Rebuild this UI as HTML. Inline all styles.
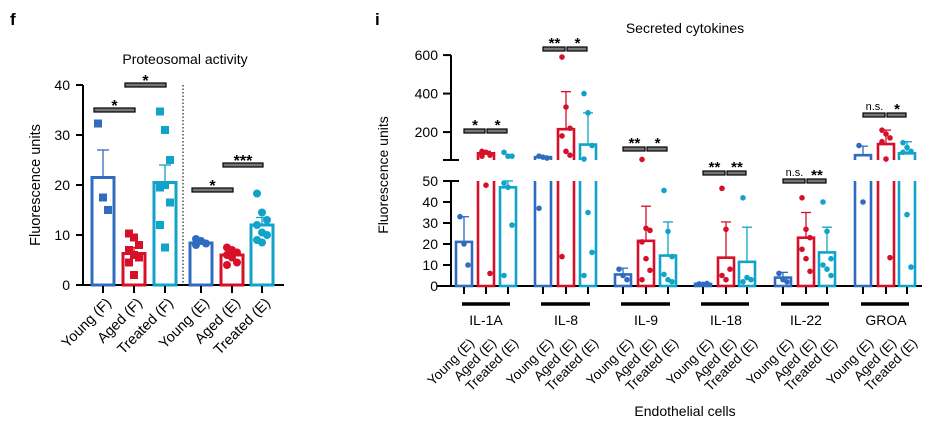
<!DOCTYPE html>
<html><head><meta charset="utf-8"><style>
body{margin:0;background:#fff}
svg{display:block;font-family:"Liberation Sans",Arial,sans-serif}
</style></head><body>
<svg id="c" width="939" height="431" viewBox="0 0 939 431"></svg>
<script>
// ---- Panel f data ----
const fCats=["Young (F)","Aged (F)","Treated (F)","Young (E)","Aged (E)","Treated (E)"];
const fMeans=[21.5,6.3,20.5,8.4,6.0,12.0];
const fErr=[27,7.5,24,8.8,6.5,13.5];
const fPts=[[32.3,17.5,15],[10.3,9.5,8,7,6,5.5,4.5,2],[34.7,31,25,19.5,20,16.5,12,7.5],[9.2,8.8,8.3,8],[7.5,7,6.5,6,5.5,4.5,4],[18.3,14.5,13,12,10.5,10,9,8.5]];
const fTicks=[0,10,20,30,40];
const fSig=[[0,1,35,"*"],[1,2,40,"*"],[3,4,19,"*"],[4,5,24,"***"]];
// ---- Panel i data ----
const iGroups=["IL-1A","IL-8","IL-9","IL-18","IL-22","GROA"];
const iMeans=[[21,90,47],[70,215,135],[5.5,21.5,14.5],[1,13.5,11.5],[4,23,16],[80,138,90]];
const iErr=[[33,100,50],[75,410,300],[8.5,38,30.5],[1.5,30.5,28],[6.5,35,28],[127,210,150]];
const iPts=[[[33,20,10],[100,95,80,75,48,6],[95,75,75,49,47,29,5]],[[75,70,65,37],[590,330,220,180,100,80,14],[400,300,130,60,35,16,5]],[[8,5,3],[58,27.5,26.5,21,13,7.5,3],[45.5,26,14,5.5,3,2]],[[1,0.8,1.2],[46.5,27,8,5,3],[42,4,3,2]],[[6,3,2],[42,27,23,17.5,13,7],[40,26,13,10,8,5]],[[130,40],[210,190,170,150,60,13.5],[145,120,100,95,34,9]]];
const iSig=[["*","*",131],["**","*",49],["**","*",149],["**","**",173],["n.s.","**",181],["n.s.","*",115]];
const iLowTicks=[0,10,20,30,40,50];
const iUpTicks=[200,400,600];
const colors=["#2f6cc0","#d7102a","#11a3c9"];

const svg=document.getElementById('c');
const NS="http://www.w3.org/2000/svg";
function mk(tag,at,parent){const e=document.createElementNS(NS,tag);for(const k in at)e.setAttribute(k,at[k]);(parent||svg).appendChild(e);return e;}
function txt(s,at,parent){const e=mk('text',at,parent);e.textContent=s;return e;}

// ---------- Panel f ----------
const fy=v=>285-v*5;
const fx=i=>[103,134,165,201,232,262][i];
let t=txt("f",{x:10,y:25,'font-size':17,'font-weight':'bold'});

t=txt("Proteosomal activity",{x:185,y:64,'font-size':14,'text-anchor':'middle'});

t=txt("Fluorescence units",{x:40,y:185,'font-size':14.5,'text-anchor':'middle',transform:'rotate(-90 40 185)'});

let ax=mk('g',{});

mk('line',{x1:83,y1:fy(40),x2:83,y2:286,stroke:'#000','stroke-width':2},ax);
fTicks.forEach(v=>{mk('line',{x1:76,y1:fy(v),x2:83,y2:fy(v),stroke:'#000','stroke-width':2},ax);txt(v,{x:70,y:fy(v)+5,'font-size':14,'text-anchor':'end'},ax);});
mk('line',{x1:76,y1:285,x2:284,y2:285,stroke:'#000','stroke-width':2},ax);
let dl=mk('line',{x1:183,y1:85,x2:183,y2:285,stroke:'#333','stroke-width':1.3,'stroke-dasharray':'1.5 2'});

fCats.forEach((c,i)=>{
  const g=mk('g',{});
  
  
  const col=colors[i%3],x=fx(i),w=22;
  mk('line',{x1:x,y1:fy(fMeans[i]),x2:x,y2:fy(fErr[i]),stroke:col,'stroke-width':1.3},g);
  mk('line',{x1:x-6,y1:fy(fErr[i]),x2:x+6,y2:fy(fErr[i]),stroke:col,'stroke-width':1.3},g);
  mk('rect',{x:x-w/2,y:fy(fMeans[i]),width:w,height:fy(0)-fy(fMeans[i]),fill:'none',stroke:col,'stroke-width':3},g);
  fPts[i].forEach((v,j)=>{
    const dx=((j%3)-1)*5;
    if(i<3) mk('rect',{x:x+dx-4,y:fy(v)-4,width:8,height:8,fill:col},g);
    else mk('circle',{cx:x+dx,cy:fy(v),r:4,fill:col},g);
  });
  mk('line',{x1:x,y1:286,x2:x,y2:293,stroke:'#000','stroke-width':2},g);
  const l=txt(c,{x:x+9,y:304,'font-size':14.5,'text-anchor':'end',transform:`rotate(-45 ${x+9} 304)`});
  
});
fSig.forEach((s,k)=>{
  const g=mk('g',{});
  
  const x1=fx(s[0])-9,x2=fx(s[1])+1,y=fy(s[2]);
  mk('rect',{x:x1,y:y-2,width:x2-x1,height:4,fill:'#777',stroke:'#000','stroke-width':1.2},g);
  txt(s[3],{x:(x1+x2)/2,y:y+1,'font-size':16,'font-weight':'bold','text-anchor':'middle'},g);
});

// ---------- Panel i ----------
const yL=v=>286-v*2.1;
const yU=v=>160-(v-55)*0.1925;
const ip=v=>v>50?yU(Math.max(v,55)):yL(v);
const gx=[[464,486,508],[543,566,588],[623,646,668],[703,726,747],[783,806,827],[863,886,907]];
t=txt("i",{x:375,y:25,'font-size':17,'font-weight':'bold'});

t=txt("Secreted cytokines",{x:685,y:33,'font-size':14,'text-anchor':'middle'});

t=txt("Fluorescence units",{x:388,y:175,'font-size':14,'text-anchor':'middle',transform:'rotate(-90 388 175)'});

t=txt("Endothelial cells",{x:685,y:416,'font-size':14,'text-anchor':'middle'});

ax=mk('g',{});

mk('line',{x1:451,y1:yU(600),x2:451,y2:yU(55),stroke:'#000','stroke-width':2},ax);
mk('line',{x1:443,y1:yU(55),x2:459,y2:yU(55),stroke:'#000','stroke-width':2},ax);
mk('line',{x1:451,y1:yL(50),x2:451,y2:287,stroke:'#000','stroke-width':2},ax);
mk('line',{x1:443,y1:yL(50),x2:459,y2:yL(50),stroke:'#000','stroke-width':2},ax);
iUpTicks.forEach(v=>{mk('line',{x1:443,y1:yU(v),x2:451,y2:yU(v),stroke:'#000','stroke-width':2},ax);txt(v,{x:438,y:yU(v)+5,'font-size':14,'text-anchor':'end'},ax);});
iLowTicks.forEach(v=>{mk('line',{x1:443,y1:yL(v),x2:451,y2:yL(v),stroke:'#000','stroke-width':2},ax);txt(v,{x:438,y:yL(v)+5,'font-size':14,'text-anchor':'end'},ax);});
mk('line',{x1:437,y1:286,x2:922,y2:286,stroke:'#000','stroke-width':2},ax);
const sub=["Young (E)","Aged (E)","Treated (E)"];
iGroups.forEach((gname,gi)=>{
  const G=mk('g',{});
  
  for(let k=0;k<3;k++){
    const col=colors[k],x=gx[gi][k],w=16,m=iMeans[gi][k],e=iErr[gi][k];
    const b=mk('g',{},G);
    
    
    if(e>50&&m<=50){
      mk('line',{x1:x,y1:yL(m),x2:x,y2:yL(50),stroke:col,'stroke-width':1.3},b);
      mk('line',{x1:x,y1:yU(55),x2:x,y2:yU(e),stroke:col,'stroke-width':1.3},b);
    } else mk('line',{x1:x,y1:ip(m),x2:x,y2:ip(e),stroke:col,'stroke-width':1.3},b);
    mk('line',{x1:x-5,y1:ip(e),x2:x+5,y2:ip(e),stroke:col,'stroke-width':1.3},b);
    if(m<=50){
      mk('rect',{x:x-w/2,y:yL(m),width:w,height:yL(0)-yL(m),fill:'none',stroke:col,'stroke-width':2.6},b);
    } else {
      mk('path',{d:`M${x-w/2} ${yL(50)}V${yL(0)}H${x+w/2}V${yL(50)}`,fill:'none',stroke:col,'stroke-width':2.6},b);
      mk('path',{d:`M${x-w/2} ${yU(55)}V${yU(m)}H${x+w/2}V${yU(55)}`,fill:'none',stroke:col,'stroke-width':2.6},b);
    }
    iPts[gi][k].forEach((v,j)=>{
      const dx=((j%3)-1)*4;
      mk('circle',{cx:x+dx,cy:ip(v),r:2.8,fill:col},b);
    });
    mk('line',{x1:x,y1:287,x2:x,y2:294,stroke:'#000','stroke-width':2},G);
    const l=txt(sub[k],{x:x+11,y:344,'font-size':13.5,'text-anchor':'end',transform:`rotate(-45 ${x+11} 344)`},G);
    
  }
  mk('line',{x1:gx[gi][0]-2,y1:304,x2:gx[gi][2]+2,y2:304,stroke:'#000','stroke-width':3.5},G);
  txt(gname,{x:gx[gi][1],y:325,'font-size':14,'text-anchor':'middle'},G);
  const s=iSig[gi];
  const sg=mk('g',{},G);
  
  [[gx[gi][0],gx[gi][1],s[0]],[gx[gi][1]+1,gx[gi][2],s[1]]].forEach(p=>{
    mk('rect',{x:p[0],y:s[2]-2,width:p[1]-p[0]-1,height:4,fill:'#777',stroke:'#000','stroke-width':1.2},sg);
    if(p[2]=="n.s.") txt(p[2],{x:(p[0]+p[1])/2,y:s[2]-5,'font-size':11,'text-anchor':'middle'},sg);
    else txt(p[2],{x:(p[0]+p[1])/2,y:s[2]-1,'font-size':15,'font-weight':'bold','text-anchor':'middle'},sg);
  });
});
</script>
</body></html>
